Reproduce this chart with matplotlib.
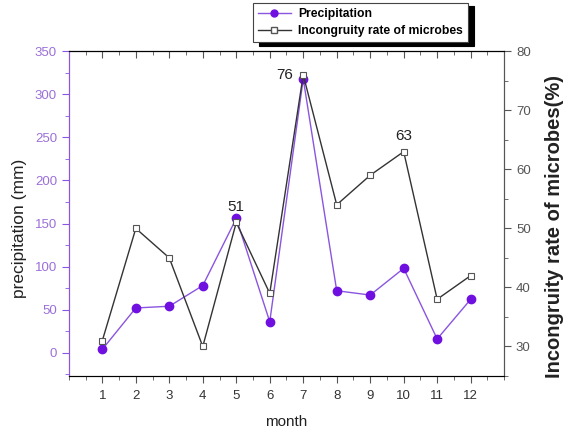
import matplotlib
matplotlib.use("Agg")
import matplotlib.pyplot as plt
from matplotlib.ticker import MultipleLocator
from matplotlib.lines import Line2D

plt.rcParams["font.family"] = ["Liberation Sans", "DejaVu Sans"]

# data
months = [1, 2, 3, 4, 5, 6, 7, 8, 9, 10, 11, 12]
precipitation = [4, 52, 54, 78, 156, 36, 318, 72, 67, 98, 16, 62]
incongruity = [31, 50, 45, 30, 51, 39, 76, 54, 59, 63, 38, 42]
labelled = {5: "51", 7: "76", 10: "63"}

purple = "#7010E0"
purple_line = "#8A55E0"
purple_text = "#9B6FD8"
grey = "#555555"

fig = plt.figure(figsize=(5.69, 4.29), dpi=100)
ax = fig.add_axes([0.121, 0.1235, 0.765, 0.757])
ax2 = ax.twinx()

ax.plot(months, precipitation, color=purple_line, lw=1.0, marker="o",
        ms=6, mfc=purple, mec=purple, zorder=3)
ax2.plot(months, incongruity, color="#333333", lw=1.0, marker="s",
         ms=5, mfc="white", mec="#555555", mew=0.8, zorder=2)

for m, txt in labelled.items():
    v = incongruity[m - 1]
    if m == 7:
        ax2.annotate(txt, (m, v), xytext=(-7, 0), textcoords="offset points",
                     ha="right", va="center", fontsize=11, color="#222222")
    else:
        ax2.annotate(txt, (m, v), xytext=(0, 6), textcoords="offset points",
                     ha="center", va="bottom", fontsize=11, color="#222222")

# left axis
ax.set_xlim(0, 13)
ax.set_ylim(-27, 350)
ax.set_yticks(range(0, 351, 50))
ax.yaxis.set_minor_locator(MultipleLocator(25))
ax.set_xticks(months)
ax.xaxis.set_minor_locator(MultipleLocator(0.5))
ax.tick_params(axis="y", which="both", colors=purple_line, labelcolor=purple_text,
               labelsize=9.5, direction="out")
ax.tick_params(axis="y", which="major", length=5)
ax.tick_params(axis="y", which="minor", length=3)
ax.tick_params(axis="x", which="both", colors=grey, labelcolor="#333333",
               labelsize=9.5, direction="out")
ax.tick_params(axis="x", which="major", length=5, pad=5)
ax.tick_params(axis="x", which="minor", length=3)
ax.set_xlabel("month", fontsize=11, color="#222222")
ax.xaxis.set_label_coords(0.5, -0.12)
ax.set_ylabel("precipitation (mm)", fontsize=12.5, color="#222222")
ax.yaxis.set_label_coords(-0.097, 0.455)
ax.spines["left"].set_color(purple_line)
for s in ["bottom", "top", "right"]:
    ax.spines[s].set_color(grey)

top = ax.secondary_xaxis("top")
top.set_xticks(months)
top.xaxis.set_minor_locator(MultipleLocator(0.5))
top.tick_params(which="both", direction="in", labeltop=False, colors=grey)
top.tick_params(which="major", length=5)
top.tick_params(which="minor", length=3)
top.spines["top"].set_color(grey)

# right axis
ax2.set_ylim(25, 80)
ax2.set_yticks(range(30, 81, 10))
ax2.yaxis.set_minor_locator(MultipleLocator(5))
ax2.tick_params(which="both", colors=grey, labelcolor="#555555", labelsize=9.5,
                direction="out")
ax2.tick_params(which="major", length=5)
ax2.tick_params(which="minor", length=3)
ax2.set_ylabel("Incongruity rate of microbes(%)", fontsize=14.5,
               fontweight="bold", color="#222222")
ax2.yaxis.set_label_coords(1.094, 0.46)
ax2.spines["right"].set_color(grey)
ax2.spines["left"].set_color(purple_line)

handles = [
    Line2D([], [], color=purple_line, lw=1, marker="o", ms=5, mfc=purple, mec=purple),
    Line2D([], [], color="#333333", lw=1, marker="s", ms=4, mfc="white", mec="#555555"),
]
leg = fig.legend(handles, ["Precipitation", "Incongruity rate of microbes"],
                 loc="upper left", bbox_to_anchor=(0.444, 0.994), borderaxespad=0,
                 prop={"weight": "bold", "size": 8.7}, handlelength=2.7,
                 frameon=True, fancybox=False, edgecolor="#444444",
                 shadow={"color": "black", "alpha": 1, "ox": 4.5, "oy": -2.5},
                 borderpad=0.45, labelspacing=0.4, handletextpad=0.6)
leg.get_frame().set_linewidth(0.8)

fig.savefig("out.png", dpi=100)
